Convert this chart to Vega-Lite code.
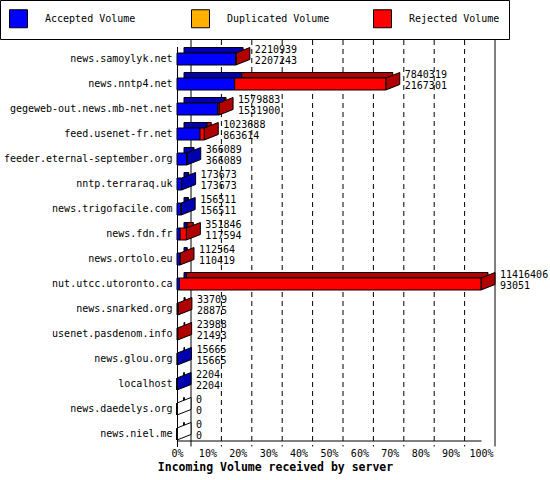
{
  "$schema": "https://vega.github.io/schema/vega-lite/v6.json",
  "description": "Incoming volume received by server, innreport style 3D bars",
  "width": 304,
  "height": 400,
  "autosize": "none",
  "padding": {"left": 177, "top": 46.5, "right": 69, "bottom": 33.5},
  "background": "white",
  "datasets": {
    "servers": [
      {"server": "news.samoylyk.net", "total": 2210939, "accepted": 2207243},
      {"server": "news.nntp4.net", "total": 7840319, "accepted": 2167301},
      {"server": "gegeweb-out.news.mb-net.net", "total": 1579883, "accepted": 1531900},
      {"server": "feed.usenet-fr.net", "total": 1023688, "accepted": 863614},
      {"server": "feeder.eternal-september.org", "total": 366089, "accepted": 366089},
      {"server": "nntp.terraraq.uk", "total": 173673, "accepted": 173673},
      {"server": "news.trigofacile.com", "total": 156511, "accepted": 156511},
      {"server": "news.fdn.fr", "total": 351846, "accepted": 117594},
      {"server": "news.ortolo.eu", "total": 112564, "accepted": 110419},
      {"server": "nut.utcc.utoronto.ca", "total": 11416406, "accepted": 93051},
      {"server": "news.snarked.org", "total": 33709, "accepted": 28875},
      {"server": "usenet.pasdenom.info", "total": 23988, "accepted": 21493},
      {"server": "news.glou.org", "total": 15665, "accepted": 15665},
      {"server": "localhost", "total": 2204, "accepted": 2204},
      {"server": "news.daedelys.org", "total": 0, "accepted": 0},
      {"server": "news.niel.me", "total": 0, "accepted": 0}
    ],
    "grid": [
      {"v": 0}, {"v": 1141640.6}, {"v": 2283281.2}, {"v": 3424921.8},
      {"v": 4566562.4}, {"v": 5708203}, {"v": 6849843.6}, {"v": 7991484.2},
      {"v": 9133124.8}, {"v": 10274765.4}, {"v": 11416406}
    ]
  },
  "data": {"name": "servers"},
  "layer": [
    {
      "data": {"name": "grid"},
      "mark": {"type": "rule", "color": "black", "strokeWidth": 1, "xOffset": 14, "yOffset": -6.5, "y2Offset": -10.5},
      "encoding": {
        "x": {
          "field": "v",
          "type": "quantitative",
          "scale": {"domain": [0, 11416406], "nice": false, "zero": true},
          "axis": {
            "values": [0, 1141640.6, 2283281.2, 3424921.8, 4566562.4, 5708203, 6849843.6, 7991484.2, 9133124.8, 10274765.4, 11416406],
            "tickCount": 20,
            "labelExpr": "round(datum.value / 11416406 * 100) + '%'",
            "labelFlush": false,
            "labelOverlap": false,
            "ticks": false,
            "grid": false,
            "offset": -6,
            "labelPadding": 7.5,
            "domainColor": "black",
            "title": "Incoming Volume received by server",
            "titleFontWeight": "bold",
            "titleFontSize": 11.5,
            "titleX": 98,
            "titleY": 26.5,
            "titleAlign": "center",
            "titleBaseline": "middle"
          }
        },
        "strokeDash": {
          "condition": {"test": "datum.v == 0 || datum.v == 11416406", "value": [1, 0]},
          "value": [5, 4]
        }
      }
    },
    {
      "mark": {"type": "bar", "fill": "#0000b0", "stroke": "black", "strokeWidth": 1, "size": 5.5, "xOffset": 7, "x2Offset": 7, "yOffset": -8.75},
      "encoding": {
        "y": {"field": "server", "type": "nominal", "sort": null},
        "x": {"field": "accepted", "type": "quantitative"},
        "x2": {"datum": 0}
      }
    },
    {
      "mark": {"type": "bar", "fill": "#b00000", "stroke": "black", "strokeWidth": 1, "size": 5.5, "xOffset": 7, "x2Offset": 7, "yOffset": -8.75},
      "encoding": {
        "y": {"field": "server", "type": "nominal", "sort": null},
        "x": {"field": "accepted", "type": "quantitative"},
        "x2": {"field": "total"}
      }
    },
    {
      "mark": {"type": "point", "filled": true, "opacity": 1, "size": 196, "stroke": "black", "strokeWidth": 1, "shape": "M0,-0.857L2,-1.643L2,0.071L0,0.857Z"},
      "encoding": {
        "y": {"field": "server", "type": "nominal", "sort": null},
        "x": {"field": "total", "type": "quantitative"},
        "fill": {
          "condition": [
            {"test": "datum.total > datum.accepted", "value": "#b00000"},
            {"test": "datum.total > 0", "value": "#0000b0"}
          ],
          "value": "white"
        }
      }
    },
    {
      "mark": {"type": "bar", "stroke": "black", "strokeWidth": 1, "size": 12},
      "encoding": {
        "y": {
          "field": "server",
          "type": "nominal",
          "sort": null,
          "axis": {"title": null, "ticks": false, "labelPadding": 5, "domainColor": "black", "grid": false}
        },
        "x": {"field": "accepted", "type": "quantitative"},
        "x2": {"datum": 0},
        "color": {
          "datum": "Accepted Volume",
          "scale": {
            "domain": ["Accepted Volume", "Duplicated Volume", "Rejected Volume"],
            "range": ["#0000ff", "#ffb000", "#ff0000"]
          },
          "legend": {
            "title": null,
            "orient": "none",
            "legendX": -177,
            "legendY": -46.5,
            "direction": "horizontal",
            "columns": 3,
            "gridAlign": "all",
            "columnPadding": 41,
            "padding": 9,
            "strokeColor": "black",
            "symbolType": "square",
            "symbolSize": 324,
            "symbolStrokeColor": "black",
            "symbolStrokeWidth": 1,
            "symbolOpacity": 1,
            "labelOffset": 17,
            "labelFontSize": 10,
            "labelColor": "black"
          }
        }
      }
    },
    {
      "mark": {"type": "bar", "stroke": "black", "strokeWidth": 1, "size": 12},
      "encoding": {
        "y": {"field": "server", "type": "nominal", "sort": null},
        "x": {"field": "accepted", "type": "quantitative"},
        "x2": {"field": "total"},
        "color": {"datum": "Rejected Volume"}
      }
    },
    {
      "mark": {"type": "text", "align": "left", "baseline": "middle", "dx": 19, "dy": -9.5, "fontSize": 10, "color": "black"},
      "encoding": {
        "y": {"field": "server", "type": "nominal", "sort": null},
        "x": {"field": "total", "type": "quantitative"},
        "text": {"field": "total", "type": "quantitative", "format": "d"}
      }
    },
    {
      "mark": {"type": "text", "align": "left", "baseline": "middle", "dx": 19, "dy": 2, "fontSize": 10, "color": "black"},
      "encoding": {
        "y": {"field": "server", "type": "nominal", "sort": null},
        "x": {"field": "total", "type": "quantitative"},
        "text": {"field": "accepted", "type": "quantitative", "format": "d"}
      }
    }
  ],
  "config": {
    "font": "DejaVu Sans Mono",
    "view": {"stroke": null},
    "axis": {"labelFontSize": 10, "labelColor": "black", "titleColor": "black", "labelFont": "DejaVu Sans Mono", "titleFont": "DejaVu Sans Mono"},
    "legend": {"labelFont": "DejaVu Sans Mono"},
    "text": {"font": "DejaVu Sans Mono"}
  }
}
